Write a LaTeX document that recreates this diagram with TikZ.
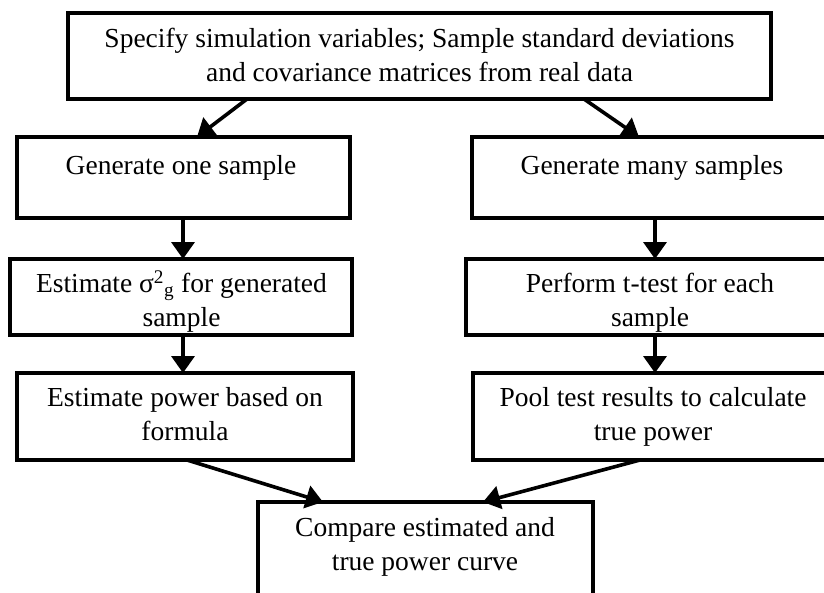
\documentclass[tikz,border=0pt]{standalone}
\usepackage{fontspec}
\setmainfont{Liberation Serif}
\usetikzlibrary{arrows.meta}
\tikzset{
  box/.style={draw=black, line width=4pt, fill=none, outer sep=0pt, inner sep=0pt, anchor=north west},
  txt/.style={inner sep=0pt, outer sep=0pt, anchor=north, align=center, font=\fontsize{27.5}{33.5}\selectfont},
  arr/.style={line width=3.6pt, -{Triangle[length=17pt,width=23pt]}}
}
\begin{document}
\begin{tikzpicture}[x=1pt,y=-1pt]
\useasboundingbox (0,0) rectangle (824,592);
\clip (0,0) rectangle (824,592);
\fill[white] (0,0) rectangle (824,592);
% boxes
\node[box, minimum width=703pt, minimum height=86pt] (top) at (68,13) {};
\node[box, minimum width=333pt, minimum height=81pt] (gen1) at (17,137) {};
\node[box, minimum width=362pt, minimum height=81pt] (gen2) at (472,137) {};
\node[box, minimum width=342pt, minimum height=76pt] (est1) at (10,259) {};
\node[box, minimum width=374pt, minimum height=76pt] (est2) at (466,259) {};
\node[box, minimum width=336pt, minimum height=87pt] (pow1) at (17,373) {};
\node[box, minimum width=360pt, minimum height=87pt] (pow2) at (473,373) {};
\node[box, minimum width=335pt, minimum height=130pt] (cmp) at (258,502) {};
% texts
\node[txt] (ttop) at (419.5,24.5) {\strut Specify simulation variables; Sample standard deviations\\\strut and covariance matrices from real data};
\node[txt] (tgen1) at (181,151.5) {\strut Generate one sample};
\node[txt] (tgen2) at (652,151.5) {\strut Generate many samples};
\node[txt] (test1) at (181.5,269.5) {\strut Estimate σ\textsuperscript{2}\textsubscript{g} for generated\\\strut sample};
\node[txt] (test2) at (650,269.5) {\strut Perform t-test for each\\\strut sample};
\node[txt] (tpow1) at (185,383.5) {\strut Estimate power based on\\\strut formula};
\node[txt] (tpow2) at (653,383.5) {\strut Pool test results to calculate\\\strut true power};
\node[txt] (tcmp) at (425,513.5) {\strut Compare estimated and\\\strut true power curve};
% connectors
\draw[arr] ([xshift=-172.5pt]top.south) -- ([xshift=13.5pt]gen1.north);
\draw[arr] ([xshift=164.5pt]top.south) -- ([xshift=-14pt]gen2.north);
\draw[arr] ([xshift=-0.5pt]gen1.south) -- ([xshift=-0.5pt]gen1.south |- est1.north);
\draw[arr] ([xshift=2pt]gen2.south) -- ([xshift=2pt]gen2.south |- est2.north);
\draw[arr] ([xshift=2pt]est1.south) -- ([xshift=2pt]est1.south |- pow1.north);
\draw[arr] ([xshift=2pt]est2.south) -- ([xshift=2pt]est2.south |- pow2.north);
\draw[arr] ([xshift=2pt]pow1.south) -- ([xshift=-102.5pt]cmp.north);
\draw[arr] ([xshift=-13pt]pow2.south) -- ([xshift=57.5pt]cmp.north);
\end{tikzpicture}
\end{document}
